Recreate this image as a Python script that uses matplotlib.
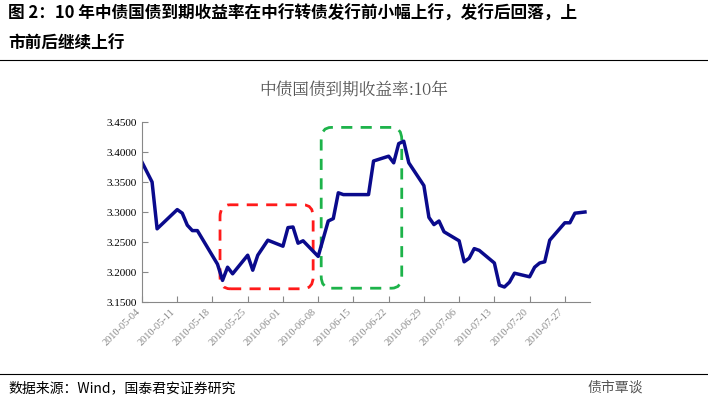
import datetime as dt

import matplotlib.pyplot as plt
import matplotlib.dates as mdates
from matplotlib.patches import FancyBboxPatch

plt.rcParams["font.family"] = ["Noto Sans CJK SC"]

start = dt.date(2010, 5, 4)
day_offsets = [0, 2, 3, 7, 8, 9, 10, 11, 15, 16, 17, 18, 21, 22, 23, 25, 28, 29, 30, 31, 32, 35,
               37, 38, 39, 40, 45, 46, 49, 50, 51, 52, 53, 56, 57, 58, 59, 60, 63, 64, 65, 66, 67,
               70, 71, 72, 73, 74, 77, 78, 79, 80, 81, 84, 85, 86, 88]
yields = [3.383, 3.350, 3.272, 3.304, 3.298, 3.278, 3.269, 3.269, 3.213, 3.186, 3.208, 3.197,
          3.228, 3.203, 3.228, 3.253, 3.243, 3.274, 3.275, 3.248, 3.252, 3.226, 3.285, 3.289,
          3.332, 3.329, 3.329, 3.385, 3.393, 3.382, 3.414, 3.418, 3.382, 3.344, 3.291, 3.279,
          3.285, 3.267, 3.252, 3.217, 3.223, 3.239, 3.236, 3.215, 3.178, 3.175, 3.183, 3.198,
          3.192, 3.208, 3.215, 3.217, 3.253, 3.282, 3.282, 3.298, 3.300]
dates = [start + dt.timedelta(days=d) for d in day_offsets]
tick_dates = [start + dt.timedelta(days=7 * i) for i in range(13)]
y_ticks = [3.15, 3.20, 3.25, 3.30, 3.35, 3.40, 3.45]

fig = plt.figure(figsize=(7.08, 4.04), dpi=100)
fig.text(0.012, 0.965, "图 2：10 年中债国债到期收益率在中行转债发行前小幅上行，发行后回落，上",
         fontsize=12, fontweight="bold", va="center")
fig.text(0.012, 0.893, "市前后继续上行", fontsize=12, fontweight="bold", va="center")
fig.add_artist(plt.Line2D([0.0, 1.0], [0.852, 0.852], color="black", lw=0.8))
fig.add_artist(plt.Line2D([0.0, 1.0], [0.075, 0.075], color="black", lw=0.8))
fig.text(0.012, 0.04, "数据来源：Wind，国泰君安证券研究", fontsize=10, va="center")
fig.text(0.83, 0.04, "债市覃谈", fontsize=10, va="center", color="#555555")
fig.text(0.5, 0.775, "中债国债到期收益率:10年", fontsize=12, color="#555555",
         ha="center", va="center", fontfamily="Noto Serif CJK SC")

ax = fig.add_axes([142 / 708, 1 - 302 / 404, 448 / 708, 180 / 404])
ax.plot(dates, yields, color="#0a0a8c", lw=2.5)
ax.set_xlim(start, start + dt.timedelta(days=89.5))
ax.set_ylim(3.15, 3.45)
ax.set_yticks(y_ticks)
ax.set_yticklabels([f"{v:.4f}" for v in y_ticks], fontsize=8, fontfamily="Liberation Serif")
ax.set_xticks(tick_dates)
ax.xaxis.set_major_formatter(mdates.DateFormatter("%Y-%m-%d"))
plt.setp(ax.get_xticklabels(), rotation=45, ha="right", fontsize=7.5,
         color="#888888", fontfamily="Liberation Serif")
for s in ["top", "right"]:
    ax.spines[s].set_visible(False)
for s in ["left", "bottom"]:
    ax.spines[s].set_color("#888888")
ax.tick_params(colors="#888888", length=4, direction="in")
ax.tick_params(axis="y", labelcolor="black")

red_box = FancyBboxPatch((mdates.date2num(start) + 15.5, 3.172), 18.5, 0.14,
                         boxstyle="round,pad=0,rounding_size=2", fill=False,
                         ec="#ff1a1a", lw=2, ls=(0, (4, 3)), mutation_aspect=0.01)
green_box = FancyBboxPatch((mdates.date2num(start) + 35.6, 3.173), 16.0, 0.268,
                           boxstyle="round,pad=0,rounding_size=2", fill=False,
                           ec="#1db34a", lw=2, ls=(0, (4, 3)), mutation_aspect=0.01)
ax.add_patch(red_box)
ax.add_patch(green_box)

fig.savefig("out.png", dpi=100)
